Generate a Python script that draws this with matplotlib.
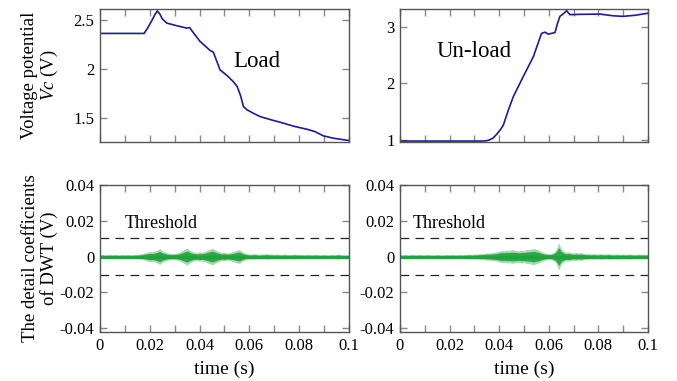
import numpy as np
import matplotlib.pyplot as plt

plt.rcParams['font.family'] = ['Liberation Serif', 'DejaVu Serif']
plt.rcParams['mathtext.fontset'] = 'custom'
plt.rcParams['mathtext.rm'] = 'Liberation Serif'
plt.rcParams['mathtext.it'] = 'Liberation Serif:italic'

# Load case: voltage Vc (V) vs time (s)
t_load = [0.0, 0.0177, 0.019, 0.021, 0.022, 0.023, 0.024, 0.025, 0.0268, 0.0308,
          0.0348, 0.036, 0.038, 0.0402, 0.0442, 0.0455, 0.047, 0.0482, 0.051,
          0.0535, 0.0551, 0.0565, 0.0576, 0.059, 0.0615, 0.0643, 0.069,
          0.0736, 0.078, 0.083, 0.0863, 0.0897, 0.0937, 0.1]
v_load = [2.36, 2.36, 2.41, 2.50, 2.55, 2.59, 2.56, 2.51, 2.466, 2.439,
          2.415, 2.42, 2.35, 2.278, 2.186, 2.169, 2.07, 1.988, 1.93,
          1.868, 1.817, 1.72, 1.613, 1.58, 1.545, 1.51, 1.475,
          1.443, 1.41, 1.381, 1.357, 1.313, 1.289, 1.265]

# Un-load case
t_unload = [0.0, 0.0336, 0.0355, 0.0375, 0.039, 0.0405, 0.0417, 0.0435, 0.0457,
            0.0497, 0.0538, 0.0558, 0.0571, 0.0585, 0.0598, 0.0625, 0.0635,
            0.0645, 0.066, 0.0672, 0.0685, 0.072, 0.0806, 0.086, 0.09, 0.095, 0.1]
v_unload = [0.98, 0.98, 0.99, 1.03, 1.10, 1.18, 1.263, 1.50, 1.763,
            2.117, 2.47, 2.72, 2.88, 2.90, 2.866, 2.894, 3.05,
            3.18, 3.23, 3.28, 3.21, 3.215, 3.22, 3.19, 3.18, 3.20, 3.236]

# DWT detail coefficient envelope (mV), one value per ms from 0 to 100 ms
t_dwt = np.arange(101) * 0.001
amp_load = [0.5, 0.6, 0.5, 0.5, 0.6, 0.5, 0.6, 0.5, 0.5, 0.6, 0.5, 0.6, 0.5, 0.5, 0.6, 0.6, 0.7, 0.8,
            1.0, 1.2, 1.4, 1.3, 1.5, 1.8, 2.2, 1.6, 1.3, 1.0, 0.9,
            0.8, 0.9, 1.0, 1.2,
            1.6, 2.0, 2.4, 1.8, 1.4,
            1.2, 1.1, 1.3, 1.2, 1.4,
            1.7, 2.0, 2.3, 2.0, 1.6, 1.3,
            1.1, 1.2, 1.0, 1.1, 1.3,
            1.5, 1.8, 1.9, 1.4, 1.0,
            0.8, 0.7, 0.7, 0.8, 0.7, 0.6, 0.7, 0.7, 0.8, 0.7, 0.7, 0.6, 0.7, 0.6, 0.6, 0.7, 0.6,
            0.6, 0.6, 0.7, 0.6, 0.6, 0.6, 0.5, 0.6, 0.6, 0.5, 0.6, 0.6, 0.5, 0.5, 0.6, 0.5, 0.5,
            0.6, 0.5, 0.6, 0.7, 0.5, 0.5, 0.5, 0.5]
amp_unload = [0.6, 0.5, 0.6, 0.5, 0.5, 0.6, 0.5, 0.5, 0.6, 0.5, 0.5, 0.6, 0.5, 0.5, 0.5, 0.6,
              0.5, 0.5, 0.5, 0.6, 0.5, 0.6, 0.5, 0.5, 0.6, 0.5, 0.6, 0.6, 0.7, 0.6,
              0.7, 0.7, 0.8, 0.8, 0.9, 1.0, 1.0, 1.1, 1.2, 1.3,
              1.5, 1.7, 1.6, 1.8, 1.7, 1.9, 1.8, 1.7, 1.6, 1.8, 1.7, 1.9, 2.0, 2.1, 2.3, 2.0, 1.8, 1.4, 1.1,
              0.9, 0.8, 0.9, 1.2,
              2.0, 3.8, 2.2, 1.5,
              1.2, 1.3, 1.1, 1.0, 1.1, 1.0, 1.1, 0.9, 0.8,
              0.8, 0.7, 0.8, 0.7, 0.7, 0.8, 0.7, 0.7, 0.8, 0.7, 0.6, 0.7, 0.7, 0.6, 0.7, 0.6,
              0.7, 0.7, 0.6, 0.6, 0.7, 0.6, 0.7, 0.6, 0.7]
threshold = 0.0105

xticks = [0, 0.02, 0.04, 0.06, 0.08, 0.1]
xticklabels = ['0', '0.02', '0.04', '0.06', '0.08', '0.1']
xminor = [0.01, 0.03, 0.05, 0.07, 0.09]
dwt_ticks = [-0.04, -0.02, 0, 0.02, 0.04]
dwt_labels = ['-0.04', '-0.02', '0', '0.02', '0.04']

blue = '#1c1c96'
green = '#1fa33a'

fig = plt.figure(figsize=(6.77, 3.81), dpi=100)
ax1 = fig.add_axes([0.1477, 0.6273, 0.3678, 0.3491])
ax2 = fig.add_axes([0.5908, 0.6273, 0.3663, 0.3491])
ax3 = fig.add_axes([0.1477, 0.1286, 0.3678, 0.3858])
ax4 = fig.add_axes([0.5908, 0.1286, 0.3663, 0.3858])


def style(ax, labels):
    ax.set_xlim(0, 0.1)
    ax.set_xticks(xticks)
    ax.set_xticks(xminor, minor=True)
    if labels:
        ax.set_xticklabels(xticklabels)
    else:
        ax.set_xticklabels([])
    ax.tick_params(which='both', direction='in', length=5, width=1, color='#888888',
                   top=True, right=True, labelsize=12, pad=4)
    for s in ax.spines.values():
        s.set_color('#555555')
        s.set_linewidth(1)


ax1.plot(t_load, v_load, color=blue, lw=1.2)
ax1.set_ylim(1.25, 2.61)
ax1.set_yticks([1.5, 2, 2.5])
ax1.set_yticklabels(['1.5', '2', '2.5'])
style(ax1, False)
ax1.text(0.0535, 2.07, 'Load', fontsize=16.5, va='center')
ax1.text(-0.24, 0.5, 'Voltage potential\n$Vc$ (V)', transform=ax1.transAxes,
         rotation=90, ha='center', va='center', fontsize=13.5, linespacing=1.05)

ax2.plot(t_unload, v_unload, color=blue, lw=1.2)
ax2.set_ylim(0.963, 3.31)
ax2.set_yticks([1, 2, 3])
ax2.set_yticklabels(['1', '2', '3'])
style(ax2, False)
ax2.text(0.0148, 2.56, 'Un-load', fontsize=16.5, va='center')

for ax, amp, tx in [(ax3, amp_load, 0.01), (ax4, amp_unload, 0.005)]:
    a = np.array(amp) * 0.001
    ax.fill_between(t_dwt, -2.0 * a, 2.0 * a, color=green, alpha=0.4, lw=0)
    ax.fill_between(t_dwt, -1.3 * a, 1.3 * a, color=green, alpha=0.9, lw=0)
    ax.plot([0, 0.1], [0, 0], color=green, lw=2.2)
    ax.axhline(threshold, color='#222222', lw=0.9, dashes=(7, 5))
    ax.axhline(-threshold, color='#222222', lw=0.9, dashes=(7, 5))
    ax.set_ylim(-0.0422, 0.04)
    ax.set_yticks(dwt_ticks)
    ax.set_yticklabels(dwt_labels)
    style(ax, True)
    ax.text(tx, 0.0185, 'Threshold', fontsize=13, va='center')
    ax.set_xlabel('time (s)', fontsize=14, labelpad=5)

ax3.text(-0.24, 0.5, 'The detail coefficients\nof DWT (V)', transform=ax3.transAxes,
         rotation=90, ha='center', va='center', fontsize=13.5, linespacing=1.05)

fig.savefig('out.png', dpi=100)
